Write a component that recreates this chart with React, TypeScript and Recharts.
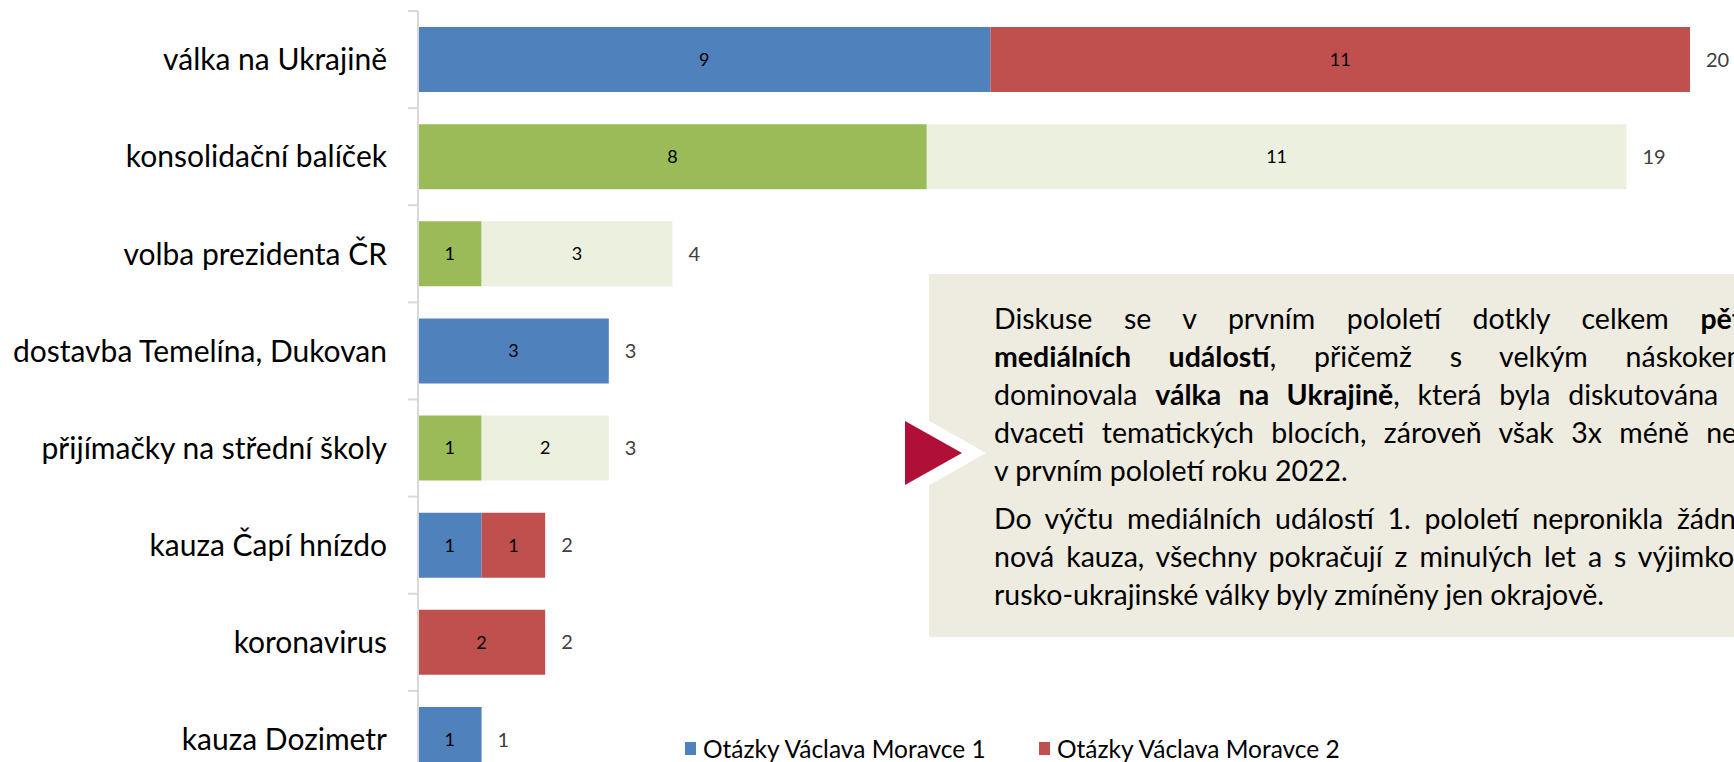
import { BarChart, Bar, XAxis, YAxis, LabelList } from "recharts";

const categories = [
  "válka na Ukrajině",
  "konsolidační balíček",
  "volba prezidenta ČR",
  "dostavba Temelína, Dukovan",
  "přijímačky na střední školy",
  "kauza Čapí hnízdo",
  "koronavirus",
  "kauza Dozimetr",
];
const ovm1 = [9, 0, 0, 3, 0, 1, 0, 1];
const ovm2 = [11, 0, 0, 0, 0, 1, 2, 0];
const greenA = [0, 8, 1, 0, 1, 0, 0, 0];
const greenB = [0, 11, 3, 0, 2, 0, 0, 0];
const totals = [20, 19, 4, 3, 3, 2, 2, 1];
const legendNames = ["Otázky Václava Moravce 1", "Otázky Václava Moravce 2"];

const seriesKeys = ["ovm1", "ovm2", "greenA", "greenB"];
const seriesVals = [ovm1, ovm2, greenA, greenB];
const seriesColors = ["#4F81BD", "#C0504D", "#9BBB59", "#EBF1DE"];

const data = categories.map((name, i) => ({
  name,
  ovm1: ovm1[i],
  ovm2: ovm2[i],
  greenA: greenA[i],
  greenB: greenB[i],
  total: totals[i],
}));

// which series is the outermost segment of each row (the total goes after it)
const lastKey = categories.map((_, i) => {
  let k = "";
  seriesVals.forEach((vals, s) => {
    if (vals[i]) k = seriesKeys[s];
  });
  return k;
});

const FONT = "Lato";
const W = 1734;
const H = 800;
const TOP = 11;
const BOTTOM = 12;
const BAND = (H - TOP - BOTTOM) / categories.length;

const hideZero = (v: any) => (v ? v : "");

function CategoryTick(props: any) {
  const { y, payload } = props;
  const b = y - BAND / 2;
  return (
    <g>
      <line x1={408} x2={418} y1={b} y2={b} stroke="#D9D9D9" strokeWidth={2} />
      <text x={387} y={y} dy="0.36em" textAnchor="end" fill="#000" fontSize={30} fontFamily={FONT}>
        {payload.value}
      </text>
    </g>
  );
}

const makeTotal = (key: string) => (props: any) => {
  const vb = props.viewBox || props;
  const cy = Number(vb.y) + Number(vb.height) / 2;
  const row = Math.round((cy - TOP - BAND / 2) / BAND);
  if (!(row >= 0 && row < categories.length) || lastKey[row] !== key) return null;
  const x = Number(vb.x) + Number(vb.width) + 16;
  return (
    <text x={x} y={cy} dy="0.36em" textAnchor="start" fill="#404040" fontSize={20} fontFamily={FONT}>
      {totals[row]}
    </text>
  );
};

const inner = { fill: "#000", fontSize: 18, fontFamily: FONT };

const para1 = [
  { parts: [["Diskuse se v prvním pololetí dotkly celkem ", false], ["pěti", true]], justify: true },
  { parts: [["mediálních událostí", true], [", přičemž s velkým náskokem", false]], justify: true },
  { parts: [["dominovala ", false], ["válka na Ukrajině", true], [", která byla diskutována v", false]], justify: true },
  { parts: [["dvaceti tematických blocích, zároveň však 3x méně než", false]], justify: true },
  { parts: [["v prvním pololetí roku 2022.", false]], justify: false },
];
const para2 = [
  { parts: [["Do výčtu mediálních událostí 1. pololetí nepronikla žádná", false]], justify: true },
  { parts: [["nová kauza, všechny pokračují z minulých let a s výjimkou", false]], justify: true },
  { parts: [["rusko-ukrajinské války byly zmíněny jen okrajově.", false]], justify: false },
];

function Lines({ lines, top }: { lines: any[]; top: number }) {
  return (
    <>
      {lines.map((ln, i) => (
        <div
          key={i}
          style={{
            position: "absolute",
            left: 994,
            top: top + i * 38,
            width: 756,
            height: 38,
            lineHeight: "38px",
            fontSize: 28.5,
            fontFamily: FONT,
            color: "#000",
            whiteSpace: "nowrap",
            textAlign: ln.justify ? "justify" : "left",
            textAlignLast: ln.justify ? "justify" : "left",
          }}
        >
          {ln.parts.map((p: any, j: number) =>
            p[1] ? <b key={j}>{p[0]}</b> : <span key={j}>{p[0]}</span>
          )}
        </div>
      ))}
    </>
  );
}

export default function App() {
  return (
    <div
      style={{
        position: "absolute",
        left: 0,
        top: 0,
        width: W,
        height: 762,
        overflow: "hidden",
        background: "#fff",
        fontFamily: FONT,
      }}
    >
      <div style={{ position: "absolute", left: 0, top: 0 }}>
        <BarChart
          width={W}
          height={H}
          data={data}
          layout="vertical"
          margin={{ top: TOP, right: 44, bottom: BOTTOM, left: 0 }}
        >
          <XAxis type="number" domain={[0, 20]} hide />
          <YAxis
            type="category"
            dataKey="name"
            width={418}
            interval={0}
            axisLine={{ stroke: "#D9D9D9", strokeWidth: 2 }}
            tickLine={false}
            tick={<CategoryTick />}
          />
          {seriesKeys.map((k, s) => (
            <Bar key={k} dataKey={k} stackId="a" fill={seriesColors[s]} barSize={65} isAnimationActive={false}>
              <LabelList dataKey={k} position="center" formatter={hideZero} {...inner} />
              <LabelList dataKey="total" content={makeTotal(k)} />
            </Bar>
          ))}
        </BarChart>
      </div>

      <div
        style={{
          position: "absolute",
          left: 929,
          top: 274,
          width: 900,
          height: 363,
          background: "#EEECE1",
        }}
      />
      <svg style={{ position: "absolute", left: 0, top: 0 }} width={W} height={762}>
        <polygon points="880,393 986,453 880,513" fill="#fff" />
        <polygon points="905,421 962,453 905,485" fill="#B01038" />
      </svg>
      <Lines lines={para1} top={299} />
      <Lines lines={para2} top={499} />

      {legendNames.map((n, i) => (
        <div
          key={n}
          style={{
            position: "absolute",
            left: i === 0 ? 685 : 1039,
            top: 733,
            height: 30,
            display: "flex",
            alignItems: "center",
            fontSize: 24.5,
            fontFamily: FONT,
            color: "#000",
            whiteSpace: "nowrap",
          }}
        >
          <span
            style={{
              display: "inline-block",
              width: 11,
              height: 13,
              marginRight: 7,
              background: seriesColors[i],
            }}
          />
          {n}
        </div>
      ))}
    </div>
  );
}
